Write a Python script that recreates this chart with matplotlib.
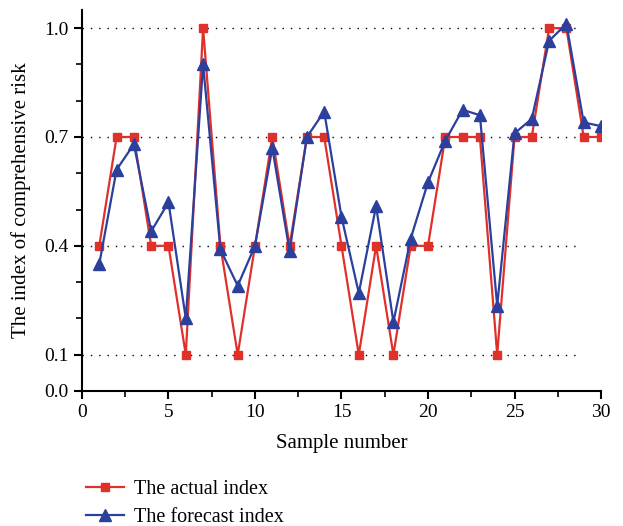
import matplotlib
matplotlib.use("Agg")
import matplotlib.pyplot as plt
from matplotlib.ticker import MultipleLocator, FixedLocator

plt.rcParams['font.family'] = ['Liberation Serif', 'DejaVu Serif']

# data
samples = list(range(1, 31))
actual = [0.4, 0.7, 0.7, 0.4, 0.4, 0.1, 1.0, 0.4, 0.1, 0.4,
          0.7, 0.4, 0.7, 0.7, 0.4, 0.1, 0.4, 0.1, 0.4, 0.4,
          0.7, 0.7, 0.7, 0.1, 0.7, 0.7, 1.0, 1.0, 0.7, 0.7]
forecast = [0.35, 0.61, 0.68, 0.44, 0.52, 0.20, 0.90, 0.39, 0.29, 0.40,
            0.67, 0.385, 0.70, 0.77, 0.48, 0.27, 0.51, 0.19, 0.42, 0.575,
            0.69, 0.775, 0.76, 0.235, 0.71, 0.75, 0.965, 1.012, 0.74, 0.73]
y_labels = [0.0, 0.1, 0.4, 0.7, 1.0]

red = '#e0302a'
blue = '#2b3f9c'

fig = plt.figure(figsize=(6.23, 5.26), dpi=100)
ax = fig.add_axes([0.1316, 0.2567, 0.8331, 0.7243])

for v in y_labels[1:]:
    ax.axhline(v, xmin=0, xmax=0.96, color='black', linestyle=(0, (1, 5)),
               linewidth=1.0, zorder=0)

ax.plot(samples, actual, color=red, marker='s', markersize=6, linewidth=1.6,
        label='The actual index', zorder=2)
ax.plot(samples, forecast, color=blue, marker='^', markersize=8.5, linewidth=1.6,
        label='The forecast index', zorder=3)

ax.set_xlim(0, 30)
ax.set_ylim(0, 1.05)
ax.xaxis.set_major_locator(MultipleLocator(5))
ax.xaxis.set_minor_locator(MultipleLocator(2.5))
ax.yaxis.set_major_locator(FixedLocator(y_labels))
ax.yaxis.set_minor_locator(MultipleLocator(0.1))
ax.set_yticklabels(['0.0', '0.1', '0.4', '0.7', '1.0'])

for s in ['top', 'right']:
    ax.spines[s].set_visible(False)
for s in ['left', 'bottom']:
    ax.spines[s].set_linewidth(1.5)
ax.tick_params(which='major', direction='out', length=6, width=1.5, labelsize=14)
ax.tick_params(which='minor', direction='out', length=4, width=1.2)

ax.set_xlabel('Sample number', fontsize=15, labelpad=9)
ax.set_ylabel('The index of comprehensive risk', fontsize=15, labelpad=10)

fig.legend(loc='lower left', bbox_to_anchor=(0.109, -0.036), frameon=False,
           fontsize=14.5, handlelength=1.9, labelspacing=0.45, handletextpad=0.5)

fig.savefig('out.png', dpi=100)
